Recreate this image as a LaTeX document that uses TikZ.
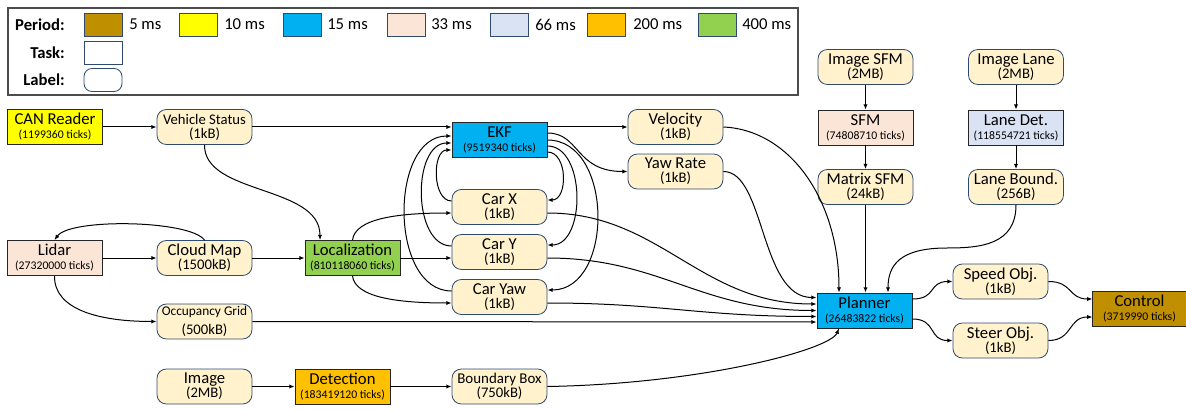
\documentclass[tikz,border=0pt]{standalone}
\usepackage{fontspec}
\setmainfont{Carlito}
\usetikzlibrary{arrows.meta,calc}
\definecolor{cBrown}{HTML}{BF8F00}
\definecolor{cYellow}{HTML}{FFFF00}
\definecolor{cBlue}{HTML}{00B0F0}
\definecolor{cPeach}{HTML}{FBE5D6}
\definecolor{cLBlue}{HTML}{DAE3F3}
\definecolor{cOrange}{HTML}{FFC000}
\definecolor{cGreen}{HTML}{92D050}
\definecolor{cLabel}{HTML}{FFF2CC}
\definecolor{cEdge}{HTML}{2F4A70}
\newcommand\tks[1]{{\fontsize{8.8}{10.5}\selectfont #1}}
\newcommand\szl[1]{{\fontsize{11}{10.5}\selectfont #1}}
\tikzset{
  task/.style={draw=black!85, line width=0.6pt, minimum width=71.25pt, minimum height=26.25pt,
    inner sep=0pt, align=center, font=\fontsize{12.5}{10.5}\selectfont},
  lab/.style={task, draw=cEdge, fill=cLabel, rounded corners=7pt},
  conn/.style={draw, line width=0.75pt, -{Latex[length=4pt,width=3.2pt]}},
  swatch/.style={draw=cEdge, line width=0.6pt, minimum width=28.5pt, minimum height=17.25pt, inner sep=0pt},
  legtxt/.style={anchor=west, font=\fontsize{12.5}{14}\selectfont, inner sep=0pt},
  leghead/.style={anchor=east, font=\fontsize{12.5}{14}\selectfont\bfseries, inner sep=0pt}
}
\begin{document}
\begin{tikzpicture}[x=0.75pt,y=-0.75pt]
\useasboundingbox (0,0) rectangle (1186,410);
% legend
\draw[draw=gray!60!black, line width=0.8pt] (8,8) rectangle (798,95);
\node[leghead] (lp) at (65,24.5) {Period:};
\node[leghead] (lt) at (65,52.5) {Task:};
\node[leghead] (ll) at (65,80) {Label:};
\node[swatch, fill=cBrown] (s1) at (103,24.5) {};
\node[legtxt] (t1) at (129,24.5) {5 ms};
\node[swatch, fill=cYellow] (s2) at (198,24.5) {};
\node[legtxt] (t2) at (224,24.5) {10 ms};
\node[swatch, fill=cBlue] (s3) at (302,24.5) {};
\node[legtxt] (t3) at (327,24.5) {15 ms};
\node[swatch, fill=cPeach] (s4) at (406,24.5) {};
\node[legtxt] (t4) at (431,24.5) {33 ms};
\node[swatch, fill=cLBlue] (s5) at (509.5,24.5) {};
\node[legtxt] (t5) at (535,24.5) {66 ms};
\node[swatch, fill=cOrange] (s6) at (606.5,24.5) {};
\node[legtxt] (t6) at (633,24.5) {200 ms};
\node[swatch, fill=cGreen] (s7) at (717,24.5) {};
\node[legtxt] (t7) at (742,24.5) {400 ms};
\node[swatch, fill=white] (stask) at (103,52.5) {};
\node[swatch, fill=white, rounded corners=6pt] (slab) at (103,80) {};
% nodes
\node[task, fill=cYellow] (can) at (55,127) {CAN Reader\\\tks{(1199360 ticks)}};
\node[lab] (vs) at (204.5,127) {{\fontsize{11}{10.5}\selectfont Vehicle Status}\\\szl{(1kB)}};
\node[task, fill=cBlue] (ekf) at (499.5,140) {EKF\\\tks{(9519340 ticks)}};
\node[lab] (vel) at (675.5,127) {Velocity\\\szl{(1kB)}};
\node[lab] (yaw) at (675.5,171.5) {Yaw Rate\\\szl{(1kB)}};
\node[lab] (carx) at (499.5,207) {Car X\\\szl{(1kB)}};
\node[lab] (cary) at (499.5,252) {Car Y\\\szl{(1kB)}};
\node[lab] (caryaw) at (499.5,297) {Car Yaw\\\szl{(1kB)}};
\node[task, fill=cPeach] (lidar) at (54.5,258) {Lidar\\\tks{(27320000 ticks)}};
\node[lab] (cloud) at (204.5,258) {Cloud Map\\\szl{(1500kB)}};
\node[task, fill=cGreen] (loc) at (352.5,258) {Localization\\\tks{(810118060 ticks)}};
\node[lab] (occ) at (204.5,321.5) {{\fontsize{10}{10.5}\selectfont Occupancy Grid}\\[3.4pt]\szl{(500kB)}};
\node[lab] (image) at (204.5,386.5) {Image\\\szl{(2MB)}};
\node[task, fill=cOrange] (det) at (342.5,386.5) {Detection\\\tks{(183419120 ticks)}};
\node[lab] (bb) at (499.5,386.5) {{\fontsize{11.2}{10.5}\selectfont Boundary Box}\\\szl{(750kB)}};
\node[lab] (imgsfm) at (865.5,67) {Image SFM\\\szl{(2MB)}};
\node[task, fill=cPeach] (sfm) at (865.5,127.5) {SFM\\\tks{(74808710 ticks)}};
\node[lab] (matsfm) at (865.5,187) {Matrix SFM\\\szl{(24kB)}};
\node[lab] (imglane) at (1016,67) {Image Lane\\\szl{(2MB)}};
\node[task, fill=cLBlue] (lanedet) at (1016,127.5) {Lane Det.\\\tks{(118554721 ticks)}};
\node[lab] (lanebd) at (1016,187) {Lane Bound.\\\szl{(256B)}};
\node[task, fill=cBlue] (planner) at (864.5,310.5) {Planner\\\tks{(26483822 ticks)}};
\node[lab] (speed) at (1000.5,281.5) {Speed Obj.\\\szl{(1kB)}};
\node[lab] (steer) at (1000.5,340.5) {Steer Obj.\\\szl{(1kB)}};
\node[task, fill=cBrown, minimum width=70pt] (control) at (1139.5,308.5) {Control\\\tks{(3719990 ticks)}};
% connectors
\draw[conn] (can) -- (vs);
\draw[conn] (vs.east) -- ($(ekf.west)+(0,-13)$);
\draw[conn] ($(ekf.east)+(0,-13)$) -- (vel.west);
\draw[conn] ($(ekf.east)+(0,-7)$) .. controls (580,133) and (575,171.5) .. (yaw.west);
\draw[conn] (ekf.east) .. controls (614,140) and (614,290) .. ($(caryaw.east)+(0,-7)$);
\draw[conn] ($(ekf.east)+(0,6)$) .. controls (586,146) and (586,245) .. ($(cary.east)+(0,-7)$);
\draw[conn] ($(ekf.east)+(0,12)$) .. controls (568,152) and (568,200) .. ($(carx.east)+(0,-7)$);
\draw[conn] ($(carx.west)+(0,-6)$) .. controls (432,201) and (432,150) .. ($(ekf.west)+(0,10)$);
\draw[conn] ($(cary.west)+(0,-6)$) .. controls (412,246) and (412,143) .. ($(ekf.west)+(0,3)$);
\draw[conn] ($(caryaw.west)+(0,-6)$) .. controls (389,291) and (389,136) .. ($(ekf.west)+(0,-4)$);
\draw[conn] (vs.south) .. controls (204,195) and (320,185) .. ($(loc.north)+(-32.5,0)$);
\draw[conn] (lidar) -- (cloud);
\draw[conn] (cloud.north) .. controls (190,220) and (70,218) .. (lidar.north);
\draw[conn] (cloud) -- (loc);
\draw[conn] (lidar.south) .. controls (54,310) and (100,321.5) .. (occ.west);
\draw[conn] (loc.east) -- ($(cary.west)+(0,6)$);
\draw[conn] (loc.north) .. controls (355,218) and (400,213) .. ($(carx.west)+(0,6)$);
\draw[conn] (loc.south) .. controls (355,298) and (400,303) .. ($(caryaw.west)+(0,6)$);
\draw[conn] (occ.east) -- ($(planner.west)+(0,11.5)$);
\draw[conn] ($(carx.east)+(0,6)$) .. controls (660,213) and (700,304) .. ($(planner.west)+(0,-6.5)$);
\draw[conn] ($(cary.east)+(0,6)$) .. controls (660,258) and (700,310.5) .. (planner.west);
\draw[conn] ($(caryaw.east)+(0,6)$) .. controls (660,303) and (700,316.5) .. ($(planner.west)+(0,6)$);
\draw[conn] (yaw.east) .. controls (765,171.5) and (760,297.5) .. ($(planner.west)+(0,-13)$);
\draw[conn] (vel.east) .. controls (790,130) and (839,200) .. ($(planner.north)+(-25.5,0)$);
\draw[conn] (matsfm.south) -- (matsfm.south |- planner.north);
\draw[conn] (lanebd.south) .. controls (1016,245) and (980,248) .. (947,248) .. controls (900,248) and (888,265) .. ($(planner.north)+(23.5,0)$);
\draw[conn] (bb.east) .. controls (700,384) and (830,350) .. ($(planner.south)+(-25.5,0)$);
\draw[conn] (imgsfm) -- (sfm);
\draw[conn] (sfm) -- (matsfm);
\draw[conn] (imglane) -- (lanedet);
\draw[conn] (lanedet) -- (lanebd);
\draw[conn] (image) -- (det);
\draw[conn] (det) -- (bb);
\draw[conn] ($(planner.east)+(0,-11.5)$) .. controls (937,299) and (928,281.5) .. (speed.west);
\draw[conn] ($(planner.east)+(0,8.5)$) .. controls (937,319) and (928,340.5) .. (steer.west);
\draw[conn] (speed.east) .. controls (1073,281.5) and (1068,299) .. ($(control.west)+(0,-9.5)$);
\draw[conn] (steer.east) .. controls (1073,340.5) and (1068,317) .. ($(control.west)+(0,8.5)$);
\end{tikzpicture}
\end{document}
